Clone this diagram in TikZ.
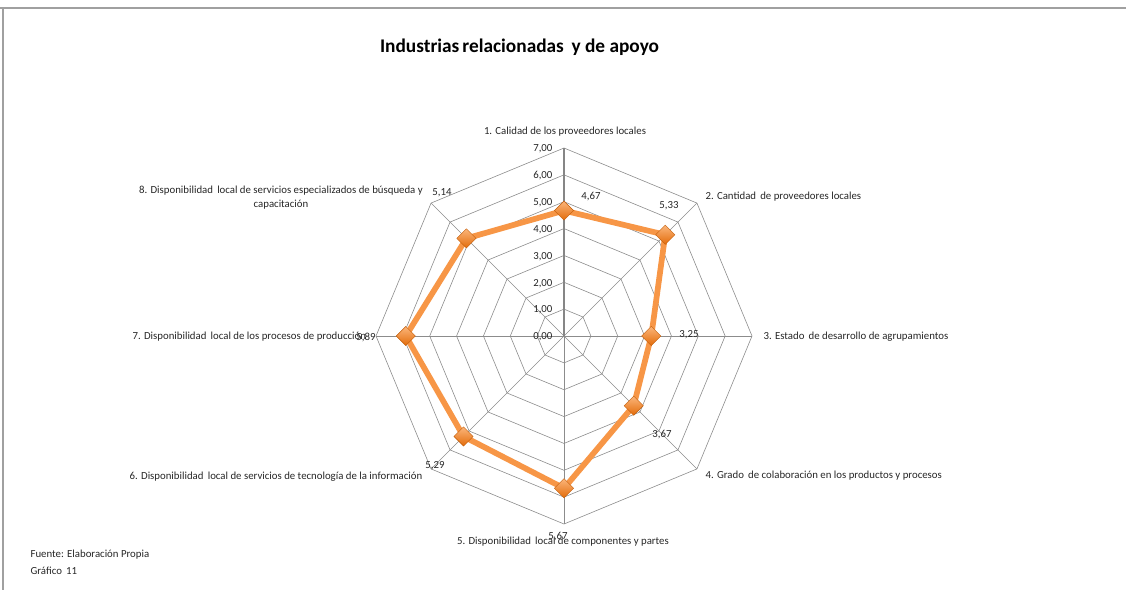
\documentclass[tikz,border=0pt]{standalone}
\usepackage{fontspec}
\setmainfont{Carlito}
\usetikzlibrary{shapes.geometric,calc}
\definecolor{gridc}{HTML}{8C8C8C}
\definecolor{axisc}{HTML}{868686}
\definecolor{serc}{HTML}{F79646}
\definecolor{mtop}{HTML}{FBB57A}
\definecolor{mbot}{HTML}{E36C0A}
\definecolor{frame}{HTML}{A0A0A0}
\tikzset{
  gridline/.style={draw=gridc, line width=0.45pt},
  axisline/.style={draw=axisc, line width=0.9pt},
  series/.style={draw=serc, line width=4.3pt, line join=round},
  marker/.style={diamond, minimum size=14.5pt, inner sep=0pt, top color=mtop, bottom color=mbot, draw=mbot!85!black, line width=0.3pt},
  lbl/.style={inner sep=1pt, text=black!85},
  foot/.style={inner sep=1pt, text=black!85, font=\fontsize{8.1}{10}\selectfont},
  title/.style={font=\fontsize{14.5}{17}\selectfont\bfseries}
}
\begin{document}
\begin{tikzpicture}[x=0.75pt,y=0.75pt, font=\fontsize{8.1}{10}\selectfont]
\useasboundingbox (0,0) rectangle (1126,590);
% frame
\draw[frame, line width=1pt] (0,582) -- (1126,582);
\draw[frame, line width=1pt] (3,582) -- (3,0);
% title
\node[title] (title) at (519.5,543) {Industrias\hspace{-1pt} relacionadas\, y de apoyo};
\begin{scope}[shift={(564,254)}]
  \def\u{26.857}
  % rings
  \foreach \k in {1,...,7}{
    \draw[gridline] (90:\k*\u) -- (45:\k*\u) -- (0:\k*\u) -- (-45:\k*\u) -- (-90:\k*\u) -- (-135:\k*\u) -- (180:\k*\u) -- (135:\k*\u) -- cycle;
  }
  % spokes
  \coordinate (O) at (0,0);
  \foreach \a in {45,0,-45,-90,-135,180,135}{
    \coordinate (s\a) at (\a:188);
    \draw[gridline] (O) -- (s\a);
  }
  \coordinate (s90) at (90:188);
  \draw[axisline] (O) -- (s90);
  % tick labels
  \foreach \k in {0,...,7}{
    \node[lbl, anchor=east] (t\k) at (-10,\k*\u-1) {\k,00};
  }
  % data points
  \coordinate (v1) at (90:4.67*\u);
  \coordinate (v2) at (45:5.33*\u);
  \coordinate (v3) at (0:3.25*\u);
  \coordinate (v4) at (-45:3.67*\u);
  \coordinate (v5) at (-90:5.67*\u);
  \coordinate (v6) at (-135:5.29*\u);
  \coordinate (v7) at (180:5.89*\u);
  \coordinate (v8) at (135:5.14*\u);
  \draw[series] (v1) -- (v2) -- (v3) -- (v4) -- (v5) -- (v6) -- (v7) -- (v8) -- cycle;
  \foreach \i in {1,...,8}{
    \node[marker] (m\i) at (v\i) {};
  }
\end{scope}
% data labels (pixel coords, y up = 590 - y)
\node[lbl] (d1) at (591,393) {4,67};
\node[lbl] (d2) at (669,384) {5,33};
\node[lbl] (d3) at (689,255) {3,25};
\node[lbl] (d4) at (662,155) {3,67};
\node[lbl] (d5) at (558,53) {5,67};
\node[lbl] (d6) at (435,124) {5,29};
\node[lbl] (d7) at (366,253) {5,89};
\node[lbl] (d8) at (442,397) {5,14};
% category labels
\node[lbl] (c1) at (565,458) {1. Calidad de los proveedores locales};
\node[lbl, anchor=west] (c2) at (704,393) {2. Cantidad\, de proveedores locales};
\node[lbl, anchor=west] (c3) at (762,253) {3. Estado\, de desarrollo de agrupamientos};
\node[lbl, anchor=west] (c4) at (704,114) {4. Grado\, de colaboración en los productos y procesos};
\node[lbl] (c5) at (563,48) {5. Disponibilidad\, local de componentes y partes};
\node[lbl, anchor=east] (c6) at (424,113) {6. Disponibilidad\, local de servicios de tecnología de la información};
\node[lbl, anchor=west] (c7) at (131,253) {7. Disponibilidad\, local de los procesos de producción};
\node[lbl, align=center] (c8) at (281,392.5) {8. Disponibilidad\, local de servicios especializados de búsqueda y\\capacitación};
% footer
\node[foot, anchor=west] (f1) at (29,35) {Fuente: Elaboración Propia};
\node[foot, anchor=west] (f2) at (29,19) {Gráfico\, 11};
\end{tikzpicture}
\end{document}
